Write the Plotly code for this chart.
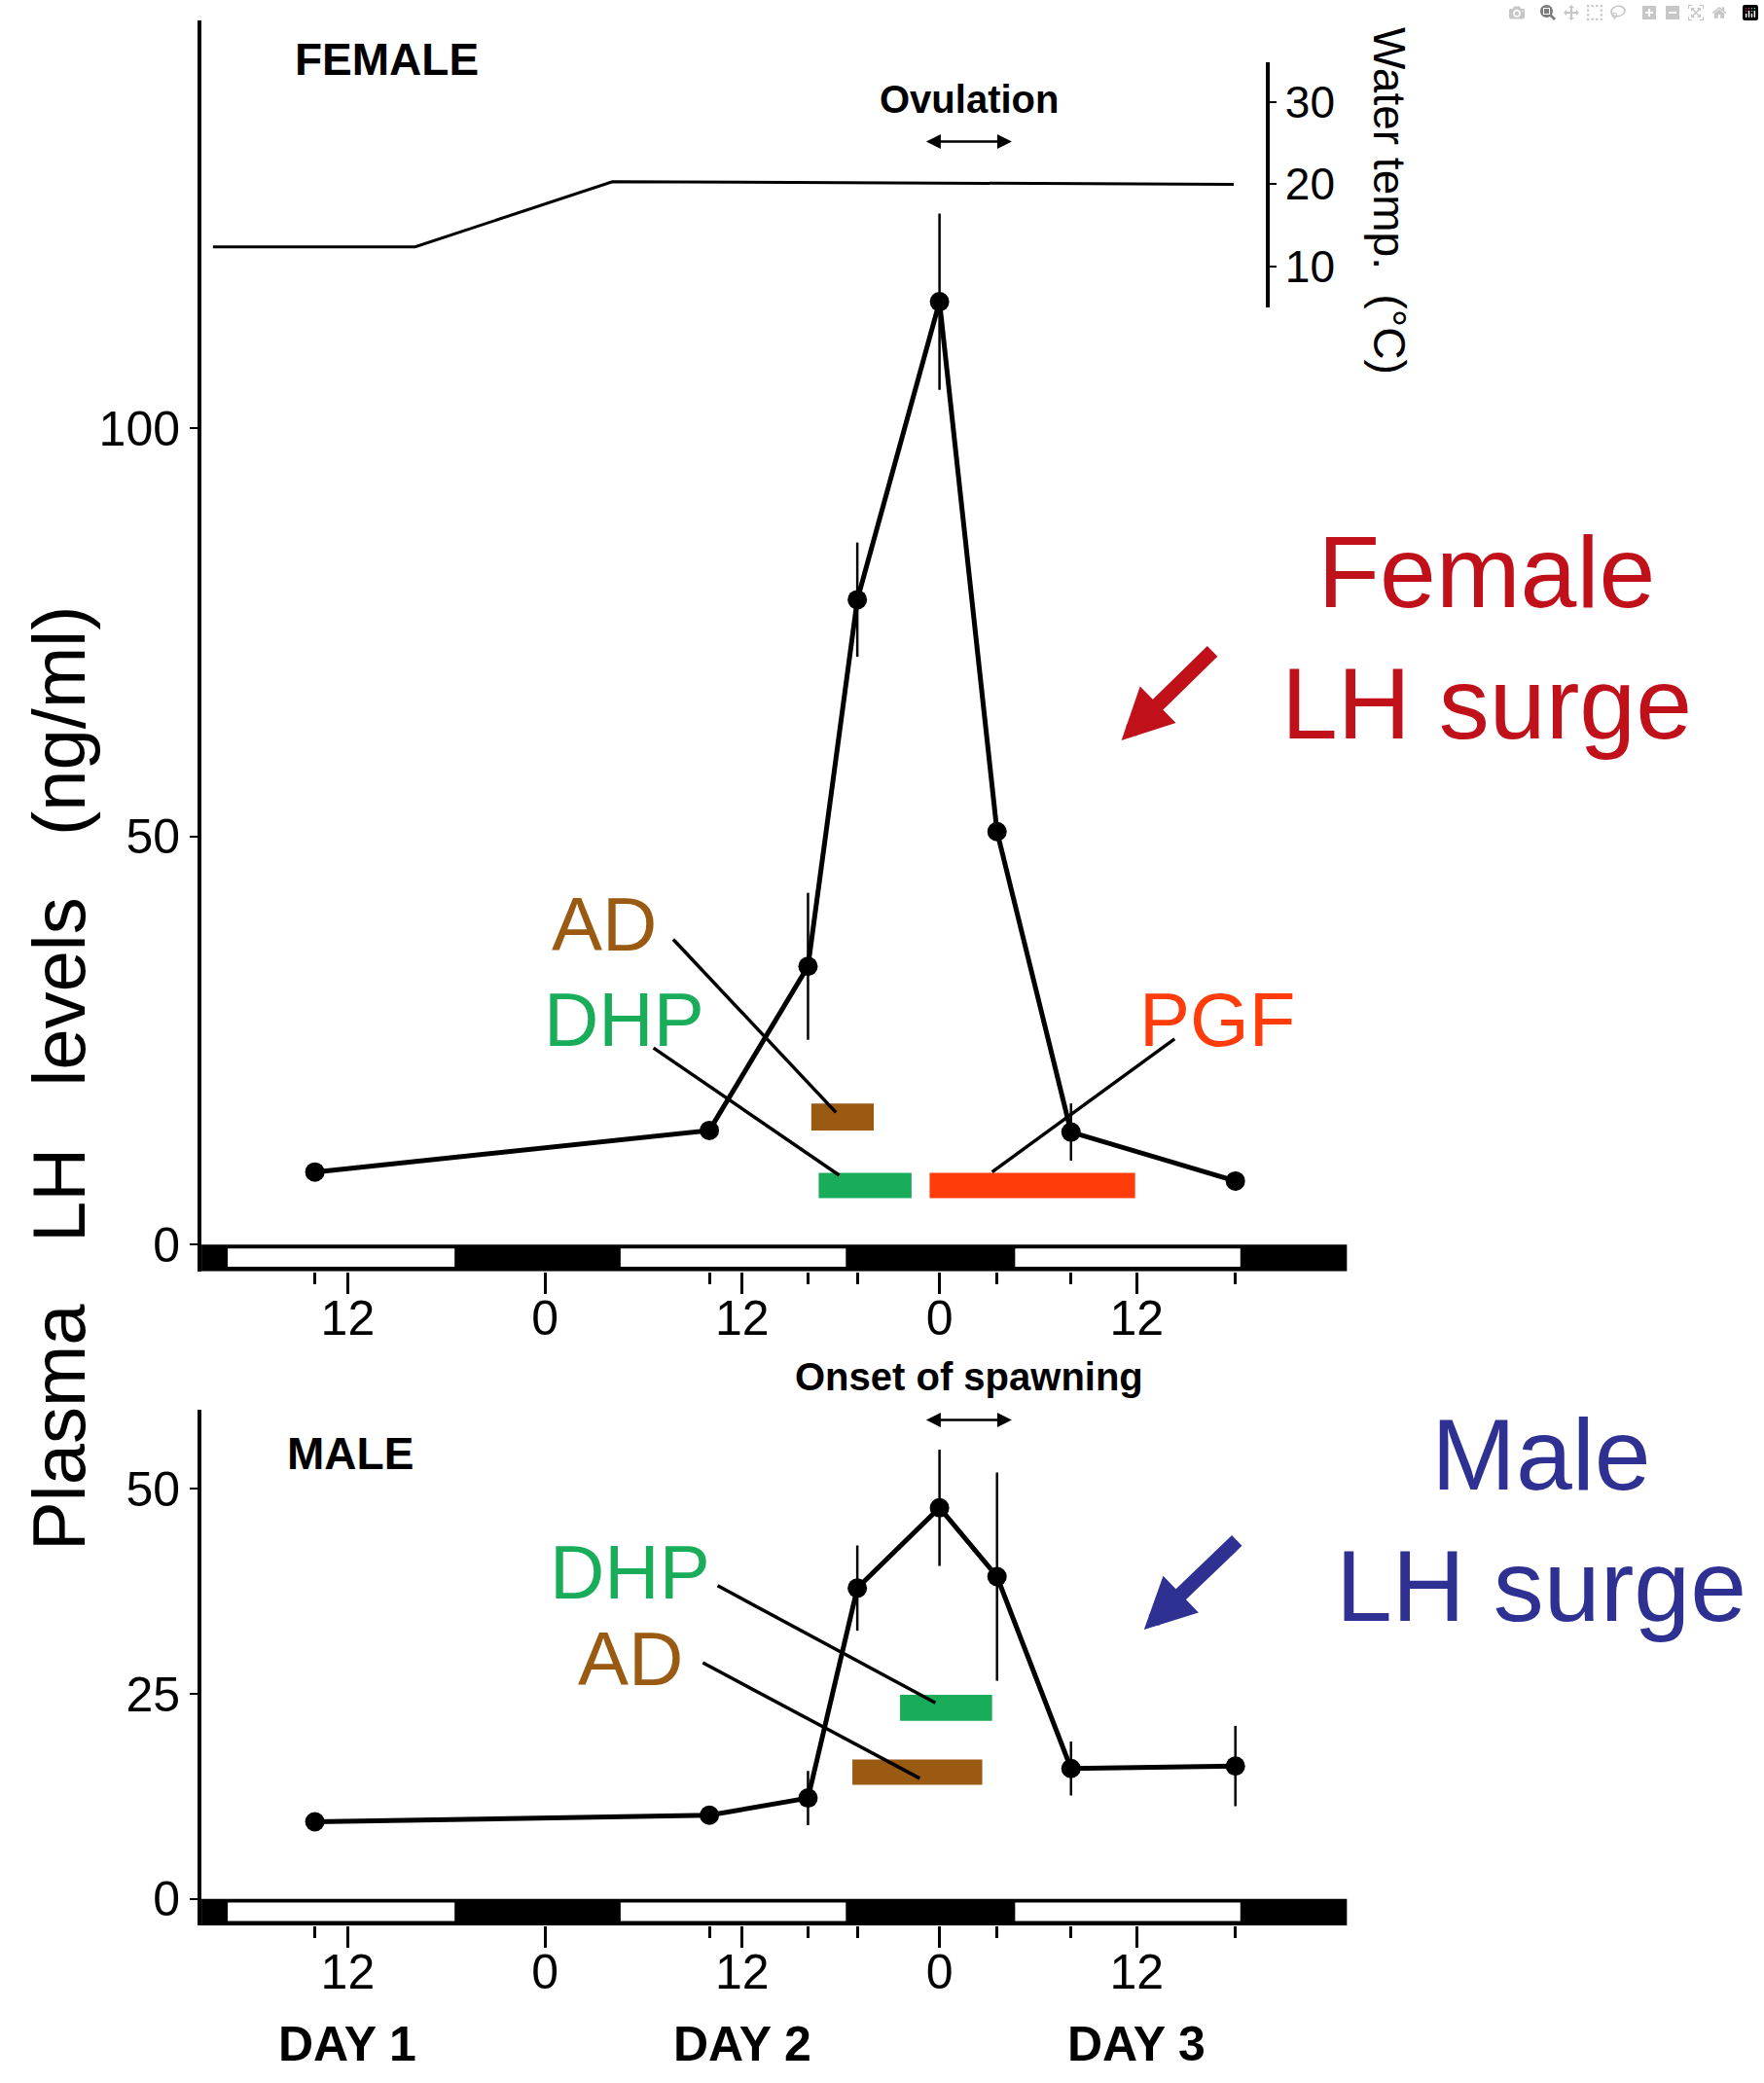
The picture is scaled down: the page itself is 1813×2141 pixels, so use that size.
import plotly.graph_objects as go

# sampling times (hours from 0:00 of day 1)
hours = [10, 34, 40, 43, 48, 51.5, 56, 66]

female_lh = [8.9, 14.0, 34.1, 79.0, 115.5, 50.6, 13.8, 7.8]
female_err = [0, 0, 9.0, 7.0, 10.8, 0, 3.5, 0]
male_lh = [9.4, 10.2, 12.3, 37.9, 47.7, 39.3, 15.9, 16.2]
male_err = [0, 0, 3.3, 5.2, 7.1, 12.7, 3.3, 4.9]

temp_hours = [3.8, 16.1, 28.1, 65.9]
water_temp = [12.4, 12.4, 20.3, 20.0]

light_on = [4.7, 28.6, 52.6]
light_off = [18.5, 42.3, 66.3]

tick_hours = [12, 24, 36, 48, 60]
tick_text = ["12", "0", "12", "0", "12"]
day_hours = [12, 36, 60]
day_labels = ["DAY 1", "DAY 2", "DAY 3"]

# hormone windows: name, start, end, low, high
female_bars = [
    ("AD", 40.2, 44.0, 14.0, 17.3),
    ("DHP", 40.65, 46.3, 5.7, 8.8),
    ("PGF", 47.4, 59.9, 5.7, 8.8),
]
male_bars = [
    ("DHP", 45.6, 51.2, 21.7, 24.9),
    ("AD", 42.7, 50.6, 13.9, 17.0),
]
# label positions and connector lines
female_labels = [("AD", 27.6, 39.2), ("DHP", 28.8, 27.6), ("PGF", 64.9, 27.6)]
female_links = [(31.8, 37.4, 41.7, 16.2), (30.6, 24.1, 41.9, 8.5), (62.3, 25.2, 51.2, 8.9)]
male_labels = [("DHP", 29.2, 39.8), ("AD", 29.2, 29.3)]
male_links = [(34.5, 38.2, 47.75, 23.9), (33.6, 28.8, 46.8, 14.7)]

colors = {"AD": "#9a5a12", "DHP": "#19ad5a", "PGF": "#ff3c0a"}

XR = [3.1, 72.8]
BAR_LO = -3.25
narrow = "Liberation Sans Narrow, Arial Narrow, Liberation Sans, Arial"
plain = "Liberation Sans, Arial, Helvetica"

fig = go.Figure()

fig.add_trace(go.Scatter(
    x=hours, y=female_lh, xaxis="x", yaxis="y",
    mode="lines+markers",
    line=dict(color="black", width=5),
    marker=dict(color="black", size=20),
    error_y=dict(type="data", array=female_err, visible=True,
                 color="black", thickness=2.5, width=0),
    showlegend=False,
))
fig.add_trace(go.Scatter(
    x=temp_hours, y=water_temp, xaxis="x", yaxis="y3",
    mode="lines", line=dict(color="black", width=3),
    showlegend=False,
))
fig.add_trace(go.Scatter(
    x=hours, y=male_lh, xaxis="x2", yaxis="y2",
    mode="lines+markers",
    line=dict(color="black", width=5),
    marker=dict(color="black", size=20),
    error_y=dict(type="data", array=male_err, visible=True,
                 color="black", thickness=2.5, width=0),
    showlegend=False,
))

shapes = []
annots = []
for xr, yr in (("x", "y"), ("x2", "y2")):
    shapes.append(dict(type="rect", xref=xr, yref=yr, x0=XR[0], x1=XR[1],
                       y0=BAR_LO, y1=0, fillcolor="black", line=dict(width=0)))
    for a, b in zip(light_on, light_off):
        shapes.append(dict(type="rect", xref=xr, yref=yr, x0=a, x1=b,
                           y0=BAR_LO + 0.55, y1=-0.45, fillcolor="white",
                           line=dict(width=0)))

for xr, yr, bars, labels, links in (("x", "y", female_bars, female_labels, female_links),
                                   ("x2", "y2", male_bars, male_labels, male_links)):
    for name, x0, x1, y0, y1 in bars:
        shapes.append(dict(type="rect", xref=xr, yref=yr, x0=x0, x1=x1,
                           y0=y0, y1=y1, fillcolor=colors[name], line=dict(width=0)))
    for x0, y0, x1, y1 in links:
        shapes.append(dict(type="line", xref=xr, yref=yr, x0=x0, y0=y0,
                           x1=x1, y1=y1, line=dict(color="black", width=3.5)))
    for name, x, y in labels:
        annots.append(dict(xref=xr, yref=yr, x=x, y=y, text=name, showarrow=False,
                           font=dict(family=plain, size=78, color=colors[name])))


def label(x, y, text, size, color="black", family=plain, xref="paper", angle=0):
    return dict(xref=xref, yref="paper", x=x, y=y, text=text, showarrow=False,
                xanchor="center", yanchor="middle", textangle=angle,
                font=dict(family=family, size=size, color=color))


# panel titles and event markers
annots += [
    label(0.2193, 0.9713, "<b>FEMALE</b>", 46),
    label(0.1985, 0.3024, "<b>MALE</b>", 46),
    label(49.8, 0.9524, "<b>Ovulation</b>", 40, family=narrow, xref="x"),
    label(49.8, 0.3393, "<b>Onset of spawning</b>", 40, family=narrow, xref="x2"),
    dict(xref="x", yref="y", x=52.4, y=135.1, ax=47.1, ay=135.1, axref="x", ayref="y",
         text="", showarrow=True, arrowside="end+start", arrowhead=2, arrowsize=1.2,
         arrowwidth=2.5, arrowcolor="black"),
    dict(xref="x2", yref="y2", x=52.4, y=58.4, ax=47.1, ay=58.4, axref="x2", ayref="y2",
         text="", showarrow=True, arrowside="end+start", arrowhead=2, arrowsize=1.2,
         arrowwidth=2.5, arrowcolor="black"),
    label(0.7876, 0.9033, "Water temp.\u00a0\u00a0(°C)", 46, angle=90),
    label(0.0336, 0.4825,
          "Plasma\u00a0\u00a0\u00a0LH\u00a0\u00a0\u00a0levels\u00a0\u00a0\u00a0(ng/ml)",
          76, angle=-90),
    label(0.843, 0.694, "Female<br>LH surge", 104, color="#c0101a"),
    label(0.8735, 0.270, "Male<br>LH surge", 104, color="#2e3192"),
    dict(xref="paper", yref="paper", x=1152.6 / 1813, y=1 - 761 / 2141, ax=95, ay=-93,
         text="", showarrow=True, arrowhead=2, arrowsize=0.7, arrowwidth=15,
         arrowcolor="#c0101a"),
    dict(xref="paper", yref="paper", x=1175.8 / 1813, y=1 - 1675 / 2141, ax=97, ay=-93,
         text="", showarrow=True, arrowhead=2, arrowsize=0.7, arrowwidth=15,
         arrowcolor="#2e3192"),
]
for h, lab in zip(day_hours, day_labels):
    annots.append(label(h, 0.0186, "<b>" + lab + "</b>", 50, family=narrow, xref="x2"))

xcommon = dict(range=XR, domain=[0.1142, 0.7637], showline=False, showgrid=False,
               zeroline=False, ticks="outside", tickvals=tick_hours, ticktext=tick_text,
               ticklen=22, tickwidth=3, tickcolor="black", ticklabelstandoff=-18,
               minor=dict(tickvals=hours, ticks="outside", ticklen=12, tickwidth=3,
                          tickcolor="black"),
               tickfont=dict(family=narrow, size=50, color="black"))
ycommon = dict(showline=True, linewidth=4, linecolor="black", showgrid=False,
               zeroline=False, ticks="outside", ticklen=8, tickwidth=2,
               tickcolor="black", tickfont=dict(family=narrow, size=50, color="black"))

fig.update_layout(
    width=1813, height=2141,
    margin=dict(l=0, r=0, t=0, b=0),
    plot_bgcolor="rgba(0,0,0,0)", paper_bgcolor="white",
    xaxis=dict(anchor="y", **xcommon),
    xaxis2=dict(anchor="y2", **xcommon),
    yaxis=dict(anchor="x", domain=[0.3897, 0.9904], range=[BAR_LO, 150],
               tickvals=[0, 50, 100], **ycommon),
    yaxis2=dict(anchor="x2", domain=[0.0756, 0.3234], range=[BAR_LO, 59.7],
                tickvals=[0, 25, 50], **ycommon),
    yaxis3=dict(anchor="free", position=0.7185, side="right",
                domain=[0.8522, 0.9701], range=[5, 34.8], tickvals=[10, 20, 30],
                showline=True, linewidth=4, linecolor="black", showgrid=False,
                zeroline=False, ticks="outside", ticklen=7, tickwidth=2,
                tickcolor="black", tickfont=dict(family=plain, size=46, color="black")),
    shapes=shapes,
    annotations=annots,
)

fig.write_html("out.html", post_script="document.body.style.margin='0';")
